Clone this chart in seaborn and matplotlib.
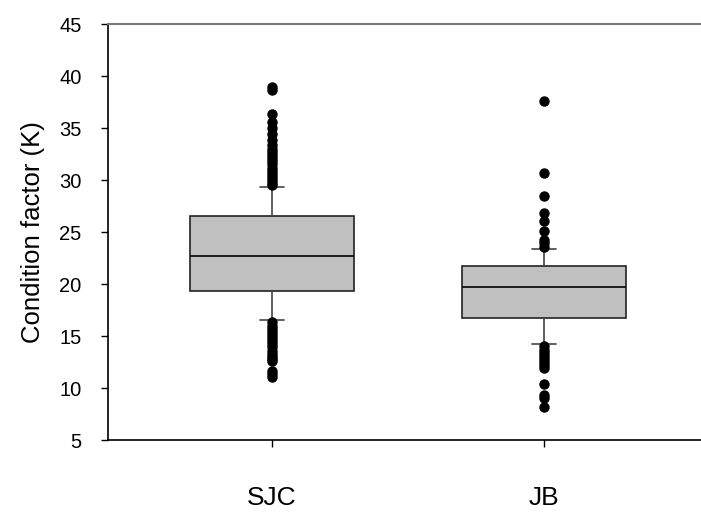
import matplotlib
matplotlib.use("Agg")
import matplotlib.pyplot as plt
import seaborn as sns
import pandas as pd

# five-number summaries (whisker low, Q1, median, Q3, whisker high)
sites = ["SJC", "JB"]
sjc_summary = [16.5, 19.3, 22.7, 26.5, 29.3]
jb_summary = [14.2, 16.7, 19.7, 21.7, 23.4]

# outliers
sjc_outliers = [38.9, 38.7, 36.3, 35.6, 35.0, 34.4, 33.8, 33.4, 33.0, 32.7, 32.4,
                32.1, 31.8, 31.5, 31.2, 30.9, 30.6, 30.3, 30.0, 29.7, 29.5,
                16.3, 16.0, 15.7, 15.4, 15.1, 14.8, 14.5, 14.2, 13.9, 13.6,
                13.3, 13.0, 12.8, 12.6, 11.6, 11.3, 11.1]
jb_outliers = [37.6, 30.7, 28.5, 26.8, 26.1, 25.1, 24.2, 23.9, 23.6,
               14.0, 13.7, 13.4, 13.1, 12.8, 12.5, 12.2, 11.9, 10.4, 9.3, 9.0, 8.2]

box_df = pd.DataFrame({
    "site": ["SJC"] * len(sjc_summary) + ["JB"] * len(jb_summary),
    "K": sjc_summary + jb_summary,
})
out_df = pd.DataFrame({
    "site": ["SJC"] * len(sjc_outliers) + ["JB"] * len(jb_outliers),
    "K": sjc_outliers + jb_outliers,
})

sns.set_style("ticks")
plt.rcParams["font.family"] = ["Liberation Sans", "DejaVu Sans"]
plt.rcParams["text.color"] = "black"
plt.rcParams["axes.labelcolor"] = "black"
plt.rcParams["xtick.color"] = "black"
plt.rcParams["ytick.color"] = "black"

fig = plt.figure(figsize=(7.01, 5.19), dpi=100)
ax = fig.add_axes([108 / 701, 1 - 440 / 519, 593 / 701, 416 / 519])

sns.boxplot(data=box_df, x="site", y="K", order=sites, whis=(0, 100),
            width=0.6, color="#c0c0c0", showfliers=False, ax=ax,
            capwidths=0.085,
            boxprops=dict(facecolor="#c0c0c0", edgecolor="#222222", linewidth=1.2),
            medianprops=dict(color="black", linewidth=1.2),
            whiskerprops=dict(color="#444444", linewidth=1.2),
            capprops=dict(color="#444444", linewidth=1.2))
sns.stripplot(data=out_df, x="site", y="K", order=sites, jitter=False,
              color="black", size=7.5, linewidth=0, ax=ax, zorder=5)

ax.set_xlim(-0.603, 1.577)
ax.set_ylim(5, 45)
ax.set_yticks(range(5, 50, 5))
ax.set_xlabel("")
ax.set_ylabel("Condition factor (K)", fontsize=18.5, labelpad=10)
ax.tick_params(axis="y", labelsize=14.5, length=5, width=1, pad=14)
ax.tick_params(axis="x", labelsize=19, length=5, width=1, pad=28)

ax.spines["right"].set_visible(False)
ax.spines["top"].set_color("#777777")
ax.spines["top"].set_linewidth(1.5)
ax.spines["left"].set_color("black")
ax.spines["bottom"].set_color("black")
ax.spines["left"].set_linewidth(1.2)
ax.spines["bottom"].set_linewidth(1.2)

fig.savefig("out.png", dpi=100)
